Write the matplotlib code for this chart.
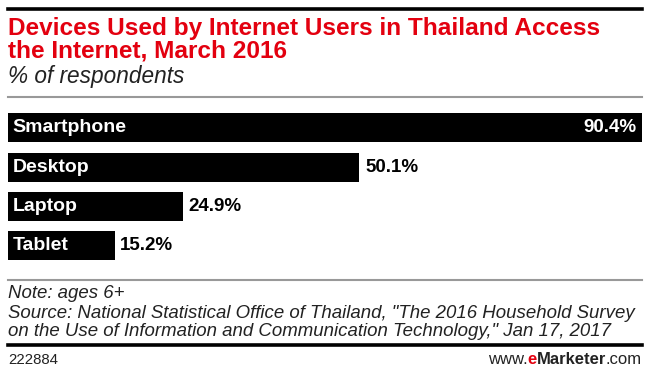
import matplotlib.pyplot as plt
from matplotlib.lines import Line2D

devices = ['Smartphone', 'Desktop', 'Laptop', 'Tablet']
share = [90.4, 50.1, 24.9, 15.2]
labels = ['90.4%', '50.1%', '24.9%', '15.2%']

W, H = 650, 376
fig = plt.figure(figsize=(6.5, 3.76), dpi=100)
fig.patch.set_facecolor('white')

def fx(x):
    return x / W

def fy(y):
    return 1 - y / H

# rules
fig.add_artist(Line2D([fx(8), fx(642)], [fy(9), fy(9)], color='black', lw=2.6))
fig.add_artist(Line2D([fx(8), fx(642)], [fy(97), fy(97)], color='#999999', lw=1.5))
fig.add_artist(Line2D([fx(8), fx(642)], [fy(280), fy(280)], color='#999999', lw=1.5))
fig.add_artist(Line2D([fx(8), fx(642)], [fy(345), fy(345)], color='black', lw=2.6))

font = 'Liberation Sans'
fig.text(fx(8), fy(28), 'Devices Used by Internet Users in Thailand Access',
         color='#e3000f', fontsize=17.6, fontweight='bold', family=font, va='center')
fig.text(fx(8), fy(51), 'the Internet, March 2016',
         color='#e3000f', fontsize=17.6, fontweight='bold', family=font, va='center')
fig.text(fx(8), fy(76), '% of respondents', color='#222222', fontsize=16.3,
         style='italic', family=font, va='center')

# bars
ax = fig.add_axes([fx(8), fy(265), (642 - 8) / W, (265 - 108.4) / H])
y = list(range(len(devices)))
ax.barh(y, share, height=0.74, color='black')
ax.set_xlim(0, max(share))
ax.set_ylim(len(devices) - 0.5, -0.5)
ax.axis('off')
for i, (d, v, lab) in enumerate(zip(devices, share, labels)):
    ax.text(0.65, i, d, color='white', fontsize=14, fontweight='bold',
            family=font, va='center', ha='left')
    if v > 80:
        ax.text(v - 0.8, i, lab, color='white', fontsize=13.5, fontweight='bold',
                family=font, va='center', ha='right')
    else:
        ax.text(v + 0.8, i, lab, color='black', fontsize=13.5, fontweight='bold',
                family=font, va='center', ha='left')

# footnotes
foot = dict(fontsize=13.4, style='italic', family=font, va='center', color='#222222')
fig.text(fx(8), fy(293), 'Note: ages 6+', **foot)
fig.text(fx(8), fy(313), 'Source: National Statistical Office of Thailand, "The 2016 Household Survey', **foot)
fig.text(fx(8), fy(331), 'on the Use of Information and Communication Technology," Jan 17, 2017', **foot)
fig.text(fx(8), fy(360), '222884', fontsize=10.8, family=font, va='center', color='#222222')

# right-aligned logo built in pieces
r = fig.canvas.get_renderer()
parts = [('.com', '#222222', 'normal'), ('Marketer', '#222222', 'bold'),
         ('e', '#e3000f', 'bold'), ('www.', '#222222', 'normal')]
x = 642
for s, c, w in parts:
    tt = fig.text(fx(x), fy(360), s, fontsize=12, family=font, va='center', ha='right',
                  color=c, fontweight=w)
    bb = tt.get_window_extent(renderer=r)
    x -= bb.width

fig.savefig('out.png', dpi=100)
